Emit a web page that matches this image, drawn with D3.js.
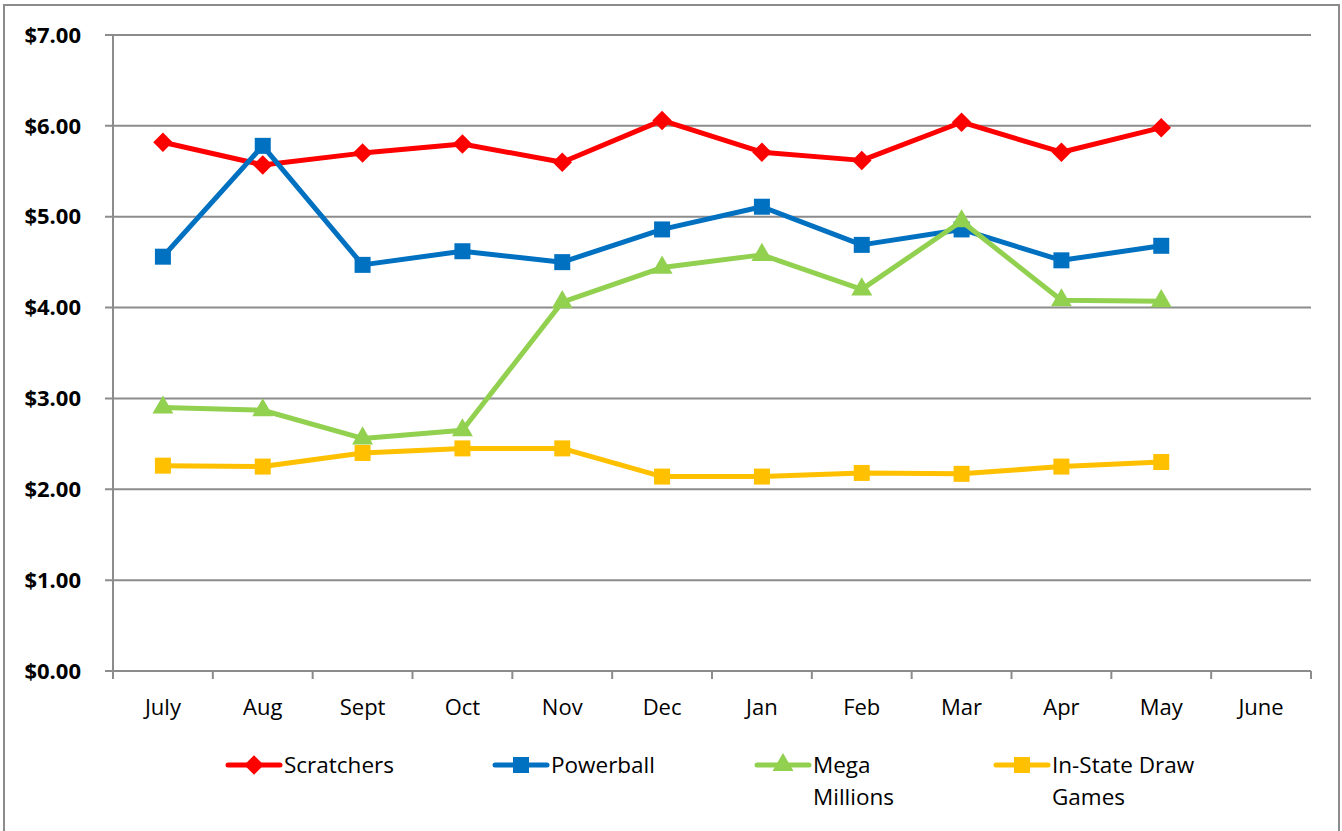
<!DOCTYPE html>
<html>
<head>
<meta charset="utf-8">
<script src="https://cdn.jsdelivr.net/npm/d3@7"></script>
<style>
  body { margin: 0; background: #fff; }
  text { font-family: "Open Sans", "Noto Sans", sans-serif; fill: #000; }
</style>
</head>
<body>
<div id="chart"></div>
<script>
'use strict';

var months = ['July', 'Aug', 'Sept', 'Oct', 'Nov', 'Dec', 'Jan', 'Feb', 'Mar', 'Apr', 'May', 'June'];
var yTicks = [0, 1, 2, 3, 4, 5, 6, 7];

var scratchers = [5.82, 5.57, 5.70, 5.80, 5.60, 6.06, 5.71, 5.62, 6.04, 5.71, 5.98];
var powerball  = [4.56, 5.78, 4.47, 4.62, 4.50, 4.86, 5.11, 4.69, 4.86, 4.52, 4.68];
var megaMillions = [2.90, 2.87, 2.56, 2.65, 4.06, 4.44, 4.58, 4.20, 4.95, 4.08, 4.07];
var inStateDraw  = [2.26, 2.25, 2.40, 2.45, 2.45, 2.14, 2.14, 2.18, 2.17, 2.25, 2.30];

var seriesNames = [['Scratchers'], ['Powerball'], ['Mega', 'Millions'], ['In-State Draw', 'Games']];

var width = 1342,
    height = 831;

var plot = { left: 113, right: 1311, top: 35, bottom: 671 };

var series = [
    { name: seriesNames[0], values: scratchers, color: '#ff0000', shape: d3.symbolSquare, size: 190, rotate: 45, legendX: 226 },
    { name: seriesNames[1], values: powerball, color: '#0070c0', shape: d3.symbolSquare, size: 256, rotate: 0, legendX: 493 },
    { name: seriesNames[2], values: megaMillions, color: '#92d050', shape: d3.symbolTriangle, size: 190, rotate: 0, legendX: 755 },
    { name: seriesNames[3], values: inStateDraw, color: '#ffc000', shape: d3.symbolSquare, size: 256, rotate: 0, legendX: 994 }
];

var svg = d3.select('#chart').append('svg')
    .attr('width', width)
    .attr('height', height);

// outer frame
svg.append('rect')
    .attr('x', 4).attr('y', 5)
    .attr('width', 1335).attr('height', 840)
    .attr('fill', 'none')
    .attr('stroke', '#8c8c8c')
    .attr('stroke-width', 2);

var x = d3.scaleBand()
    .domain(months)
    .range([plot.left, plot.right]);

var y = d3.scaleLinear()
    .domain([0, 7])
    .range([plot.bottom, plot.top]);

// gridlines
svg.append('g')
    .selectAll('line')
    .data(yTicks)
    .enter()
    .append('line')
    .attr('x1', plot.left - 8)
    .attr('x2', plot.right)
    .attr('y1', function(d) { return y(d); })
    .attr('y2', function(d) { return y(d); })
    .attr('stroke', '#8c8c8c')
    .attr('stroke-width', 2);

// y labels
svg.append('g')
    .selectAll('text')
    .data(yTicks)
    .enter()
    .append('text')
    .attr('x', 81)
    .attr('y', function(d) { return y(d); })
    .attr('dy', '0.35em')
    .attr('text-anchor', 'end')
    .attr('font-size', 22)
    .attr('font-weight', 'bold')
    .text(function(d) { return '$' + d3.format('.2f')(d); });

// y axis line
svg.append('line')
    .attr('x1', plot.left).attr('x2', plot.left)
    .attr('y1', plot.top).attr('y2', plot.bottom)
    .attr('stroke', '#8c8c8c')
    .attr('stroke-width', 2);

// x axis with ticks between categories
var xAxis = svg.append('g');
var boundaries = months.map(function(m) { return x(m); }).concat([plot.right]);

xAxis.selectAll('line')
    .data(boundaries)
    .enter()
    .append('line')
    .attr('x1', function(d) { return d; })
    .attr('x2', function(d) { return d; })
    .attr('y1', plot.bottom)
    .attr('y2', plot.bottom + 8)
    .attr('stroke', '#8c8c8c')
    .attr('stroke-width', 2);

xAxis.selectAll('text')
    .data(months)
    .enter()
    .append('text')
    .attr('x', function(d) { return x(d) + x.bandwidth() / 2; })
    .attr('y', 715)
    .attr('text-anchor', 'middle')
    .attr('font-size', 22)
    .text(function(d) { return d; });

var line = d3.line()
    .x(function(d, i) { return x(months[i]) + x.bandwidth() / 2; })
    .y(function(d) { return y(d); });

series.forEach(function(s) {
    var g = svg.append('g');
    var sym = d3.symbol().type(s.shape).size(s.size);

    g.append('path')
        .datum(s.values)
        .attr('d', line)
        .attr('fill', 'none')
        .attr('stroke', s.color)
        .attr('stroke-width', 5)
        .attr('stroke-linejoin', 'round');

    g.selectAll('path.marker')
        .data(s.values)
        .enter()
        .append('path')
        .attr('class', 'marker')
        .attr('d', sym)
        .attr('transform', function(d, i) {
            return 'translate(' + (x(months[i]) + x.bandwidth() / 2) + ',' + y(d) + ') rotate(' + s.rotate + ')';
        })
        .attr('fill', s.color);

    // legend entry
    var lg = svg.append('g').attr('transform', 'translate(' + s.legendX + ', 765)');
    lg.append('line')
        .attr('x1', 2).attr('x2', 54)
        .attr('stroke', s.color)
        .attr('stroke-width', 5)
        .attr('stroke-linecap', 'round');
    lg.append('path')
        .attr('d', sym)
        .attr('transform', 'translate(28,0) rotate(' + s.rotate + ')')
        .attr('fill', s.color);
    lg.selectAll('text')
        .data(s.name)
        .enter()
        .append('text')
        .attr('x', 58)
        .attr('y', function(d, i) { return i * 32; })
        .attr('dy', '0.35em')
        .attr('font-size', 22.5)
        .text(function(d) { return d; });
});
</script>
</body>
</html>
